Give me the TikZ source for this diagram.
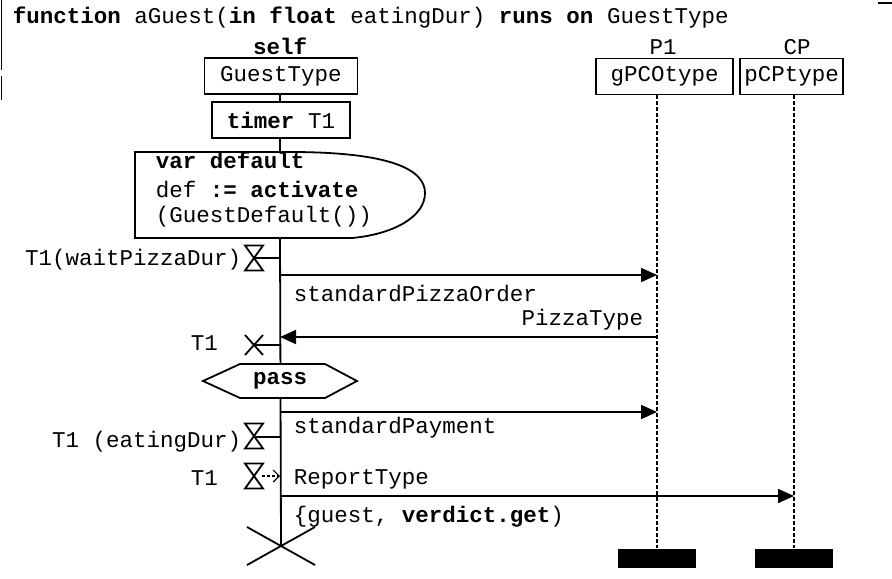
\documentclass[tikz,border=0pt]{standalone}
\usepackage{fontspec}
\setmainfont{Liberation Mono}
\usetikzlibrary{arrows.meta}
\begin{document}
\begin{tikzpicture}[x=0.5pt,y=-0.5pt,line width=0.9pt,
  every node/.style={font=\fontsize{11.25}{13}\selectfont,inner sep=0pt},
  box/.style={draw,minimum height=18pt,fill=white},
  msg/.style={-{Triangle[length=8pt,width=7pt]}},
  lifeln/.style={dash pattern=on 2pt off 1pt,line width=0.6pt},
  endbar/.style={fill=black,minimum width=39pt,minimum height=9.5pt},
  hourglass/.pic={\draw (-9,-12.5) -- (9,-12.5) -- (-9,12.5) -- (9,12.5) -- cycle;},
  tox/.pic={\draw (-9,-10) -- (9,10) (-9,10) -- (9,-10);}]
\useasboundingbox (0,0) rectangle (892,578);
% frame fragments
\draw[line width=0.6pt] (1.5,0) -- (1.5,70) (1.5,76) -- (1.5,100);
\draw[line width=0.6pt] (878,3) -- (892,3);
% title
\node[anchor=base west] (title) at (12,24) {\textbf{function} aGuest(\textbf{in float} eatingDur) \textbf{runs on} GuestType};
% instance heads
\node[anchor=base] (selfl) at (280,54) {\textbf{self}};
\node[anchor=base] (p1l) at (663,54) {P1};
\node[anchor=base] (cpl) at (797,54) {CP};
\node[box,minimum width=76.5pt] (gt) at (281,76) {GuestType};
\node[box,minimum width=68.5pt] (gp) at (664.5,76.5) {gPCOtype};
\node[box,minimum width=51.5pt] (pc) at (791.5,76.5) {pCPtype};
\node[box,minimum width=69pt] (tm) at (281,120) {\textbf{timer} T1};
% end bars
\node[endbar] (p1end) at (657,558.5) {};
\node[endbar] (cpend) at (794,558.5) {};
% coordinates on the self lifeline
\coordinate (vbtop) at (280,152);
\coordinate (vbbot) at (280,238);
\coordinate (selfend) at (281,546);
% lifelines
\draw (gt.south -| vbtop) -- (tm.north -| vbtop);
\draw (tm.south -| vbtop) -- (vbtop);
\draw (vbbot) -- (selfend);
\draw[lifeln] (gp.south -| p1end) -- (p1end.north);
\draw[lifeln] (pc.south -| cpend) -- (cpend.north);
% var box
\draw (135,152) -- (290,152) .. controls (392,152) and (425,170) .. (425,193)
  .. controls (425,216) and (395,234) .. (352,238) -- (135,238) -- cycle;
\node[anchor=base west] (v1) at (155,168) {\textbf{var default}};
\node[anchor=base west] (v2) at (155,197) {def \textbf{:= activate}};
\node[anchor=base west] (v3) at (155,222) {(GuestDefault())};
% timer set 1
\pic at (254,258) {hourglass};
\coordinate (h1) at (254,258);
\coordinate (s1) at (280,258);
\draw (h1) -- (s1);
\node[anchor=base east] (t1a) at (242,265) {T1(waitPizzaDur)};
% message standardPizzaOrder
\coordinate (m1a) at (280,275);
\coordinate (m1b) at (657,275);
\draw[msg] (m1a) -- (m1b);
\node[anchor=base west] (m1l) at (293,301) {standardPizzaOrder};
% message PizzaType
\coordinate (m2a) at (657,337);
\coordinate (m2b) at (280,337);
\draw[msg] (m2a) -- (m2b);
\node[anchor=base east] (m2l) at (644,325) {PizzaType};
% timer stop
\pic at (254,345) {tox};
\coordinate (h2) at (254,345);
\coordinate (s2) at (280,345);
\draw (h2) -- (s2);
\node[anchor=base west] (t1b) at (190,350) {T1};
% pass
\filldraw[fill=white] (203,381) -- (240,364) -- (325,364) -- (357,381) -- (325,398) -- (240,398) -- cycle;
\node (pass) at (280,381) {\textbf{pass}};
% message standardPayment
\coordinate (m3a) at (280,412);
\coordinate (m3b) at (657,412);
\draw[msg] (m3a) -- (m3b);
\node[anchor=base west] (m3l) at (293,433) {standardPayment};
% timer set 2
\pic at (254,436) {hourglass};
\coordinate (h3) at (254,437);
\coordinate (s3) at (280,437);
\draw (h3) -- (s3);
\node[anchor=base east] (t1c) at (242,447) {T1 (eatingDur)};
% timeout
\pic at (254,476) {hourglass};
\coordinate (h4) at (262,476);
\coordinate (s4) at (280,476);
\draw[dash pattern=on 1.5pt off 1pt,line width=0.6pt,-{Straight Barb[length=3pt,width=6pt]}] (h4) -- (s4);
\node[anchor=base west] (t1d) at (190,485) {T1};
\node[anchor=base west] (m4l) at (293,484) {ReportType};
% message to CP
\coordinate (m4a) at (280,496);
\coordinate (m4b) at (794,496);
\draw[msg] (m4a) -- (m4b);
\node[anchor=base west] (m4l2) at (293,522) {\{guest, \textbf{verdict.get})};
% stop
\draw (247,565) -- (315,527) (247,527) -- (315,565);
\end{tikzpicture}
\end{document}
